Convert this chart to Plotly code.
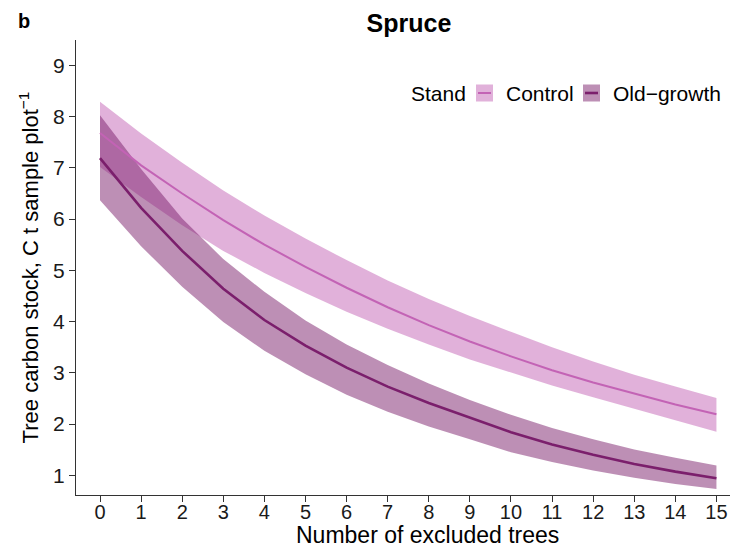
import plotly.graph_objects as go

# Number of excluded trees (x) and modelled tree carbon stock (C t per sample plot)
excluded = list(range(16))

control_fit = [7.68, 7.05, 6.50, 5.98, 5.50, 5.07, 4.66, 4.28, 3.93, 3.61, 3.32, 3.05, 2.81, 2.60, 2.38, 2.19]
control_hi = [8.29, 7.67, 7.10, 6.56, 6.07, 5.62, 5.20, 4.80, 4.44, 4.11, 3.80, 3.50, 3.22, 2.96, 2.73, 2.51]
control_lo = [7.02, 6.43, 5.88, 5.38, 4.95, 4.56, 4.19, 3.86, 3.55, 3.26, 3.00, 2.75, 2.52, 2.30, 2.07, 1.85]

old_fit = [7.19, 6.22, 5.38, 4.64, 4.03, 3.53, 3.10, 2.73, 2.41, 2.12, 1.84, 1.60, 1.40, 1.22, 1.07, 0.94]
old_hi = [8.03, 6.98, 6.01, 5.22, 4.58, 4.02, 3.55, 3.15, 2.79, 2.47, 2.18, 1.92, 1.70, 1.50, 1.34, 1.19]
old_lo = [6.37, 5.47, 4.68, 3.99, 3.43, 2.97, 2.57, 2.24, 1.95, 1.70, 1.45, 1.26, 1.09, 0.95, 0.83, 0.73]

x_ticks = list(range(16))
y_ticks = list(range(1, 10))

stand_names = ["Control", "Old\u2212growth"]
line_colors = ["#C363B5", "#7B1F6C"]
fill_colors = ["rgba(195,99,181,0.5)", "rgba(123,31,108,0.5)"]
line_widths = [2.0, 2.6]

FONT = "Liberation Sans, Arial, Helvetica, sans-serif"
W, H = 730, 547
ML, MR, MT, MB = 76, 0, 40, 52
PW, PH = W - ML - MR, H - MT - MB


def px_x(px):
    return (px - ML) / PW


def px_y(py):
    return (H - MB - py) / PH


fig = go.Figure()

# confidence ribbons (control first, old-growth drawn over it)
for lo, hi, fc, name in [
    (control_lo, control_hi, fill_colors[0], stand_names[0]),
    (old_lo, old_hi, fill_colors[1], stand_names[1]),
]:
    fig.add_trace(go.Scatter(
        x=excluded + excluded[::-1],
        y=hi + lo[::-1],
        fill="toself",
        fillcolor=fc,
        line=dict(width=0),
        mode="lines",
        hoverinfo="skip",
        showlegend=False,
        name=name,
    ))

# fitted lines on top
for fit, lc, lw, name in [
    (control_fit, line_colors[0], line_widths[0], stand_names[0]),
    (old_fit, line_colors[1], line_widths[1], stand_names[1]),
]:
    fig.add_trace(go.Scatter(
        x=excluded, y=fit, mode="lines",
        line=dict(color=lc, width=lw),
        showlegend=False, name=name,
    ))

axis_common = dict(
    showgrid=False, zeroline=False,
    showline=True, linecolor="#333333", linewidth=1.3,
    ticks="outside", ticklen=6, tickwidth=1.1, tickcolor="#333333",
)

fig.update_xaxes(
    range=[-0.584, 15.33],
    tickmode="array", tickvals=x_ticks, ticktext=[str(v) for v in x_ticks],
    tickfont=dict(family=FONT, size=20, color="#1a1a1a"),
    ticklabelstandoff=-7,
    **axis_common,
)
fig.update_yaxes(
    range=[0.614, 9.497],
    tickmode="array", tickvals=y_ticks, ticktext=[str(v) for v in y_ticks],
    tickfont=dict(family=FONT, size=21, color="#1a1a1a"),
    title_text="Tree carbon stock, C t sample plot<sup>\u22121</sup>", title_standoff=8,
    title_font=dict(family=FONT, size=22, color="#000000"),
    **axis_common,
)

annotations = [
    # x-axis title
    dict(text="Number of excluded trees", x=px_x(427), y=px_y(535), xref="paper", yref="paper",
         xanchor="center", yanchor="middle", showarrow=False,
         font=dict(family=FONT, size=23, color="#000000")),
    # panel letter
    dict(text="<b>b</b>", x=px_x(16), y=px_y(21), xref="paper", yref="paper",
         xanchor="left", yanchor="middle", showarrow=False,
         font=dict(family=FONT, size=20, color="#000000")),
    # legend title
    dict(text="Stand", x=px_x(409), y=px_y(93), xref="paper", yref="paper",
         xanchor="left", yanchor="middle", showarrow=False,
         font=dict(family=FONT, size=21, color="#000000")),
]

# legend keys: filled box with the line drawn through the middle
shapes = []
key_left = [476, 583]
label_left = [504, 611]
for i in range(2):
    x0, x1 = key_left[i], key_left[i] + 17
    shapes.append(dict(type="rect", xref="paper", yref="paper",
                       x0=px_x(x0), x1=px_x(x1), y0=px_y(101.5), y1=px_y(84.5),
                       fillcolor=fill_colors[i], line=dict(width=0)))
    shapes.append(dict(type="line", xref="paper", yref="paper",
                       x0=px_x(x0 + 2), x1=px_x(x1 - 2), y0=px_y(93), y1=px_y(93),
                       line=dict(color=line_colors[i], width=line_widths[i])))
    annotations.append(dict(text=stand_names[i], x=px_x(label_left[i]), y=px_y(93),
                            xref="paper", yref="paper", xanchor="left", yanchor="middle",
                            showarrow=False,
                            font=dict(family=FONT, size=21, color="#000000")))

fig.update_layout(
    width=W, height=H,
    margin=dict(l=ML, r=MR, t=MT, b=MB, autoexpand=False),
    paper_bgcolor="white", plot_bgcolor="white",
    showlegend=False,
    title=dict(text="<b>Spruce</b>", x=409 / W, y=1 - 23 / H,
               xanchor="center", yanchor="middle",
               font=dict(family=FONT, size=25, color="#000000")),
    annotations=annotations,
    shapes=shapes,
)

fig.write_html("out.html")
